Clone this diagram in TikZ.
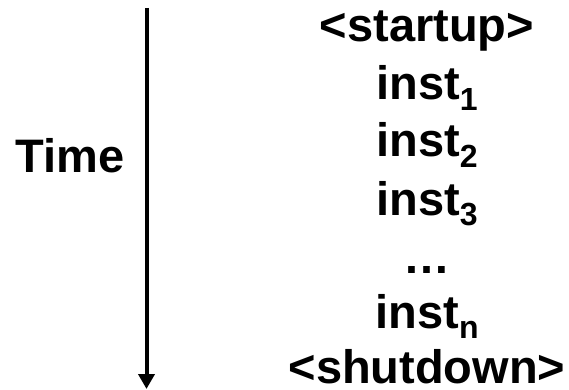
\documentclass[tikz,border=0pt]{standalone}
\usepackage{fontspec}
\setmainfont{Liberation Sans}
\usetikzlibrary{arrows.meta}
\newcommand{\sub}[1]{\raisebox{-0.22em}{\fontsize{32}{32}\selectfont #1}}
\tikzset{
  lbl/.style={font=\fontsize{47}{47}\selectfont\bfseries, anchor=base, inner sep=0pt},
  timeline/.style={line width=4pt, -{Triangle[width=16pt,length=15pt]}}
}
\begin{document}
\begin{tikzpicture}[x=1pt,y=1pt]
  \useasboundingbox (0,0) rectangle (569,-390);
  % time axis
  \coordinate (top) at (146.5,-8);
  \coordinate (bottom) at (146.5,-389);
  \draw[timeline] (top) -- (bottom);
  \node[lbl] (time) at (70,-172) {Time};
  % instruction sequence
  \node[lbl] (s0) at (427,-42)  {<startup>};
  \node[lbl] (s1) at (427,-100) {inst\sub{1}};
  \node[lbl] (s2) at (427,-157) {inst\sub{2}};
  \node[lbl] (s3) at (427,-215) {inst\sub{3}};
  \node[lbl] (s4) at (427,-273) {…};
  \node[lbl] (s5) at (427,-328) {inst\sub{n}};
  \node[lbl] (s6) at (427,-383) {<shutdown>};
\end{tikzpicture}
\end{document}
